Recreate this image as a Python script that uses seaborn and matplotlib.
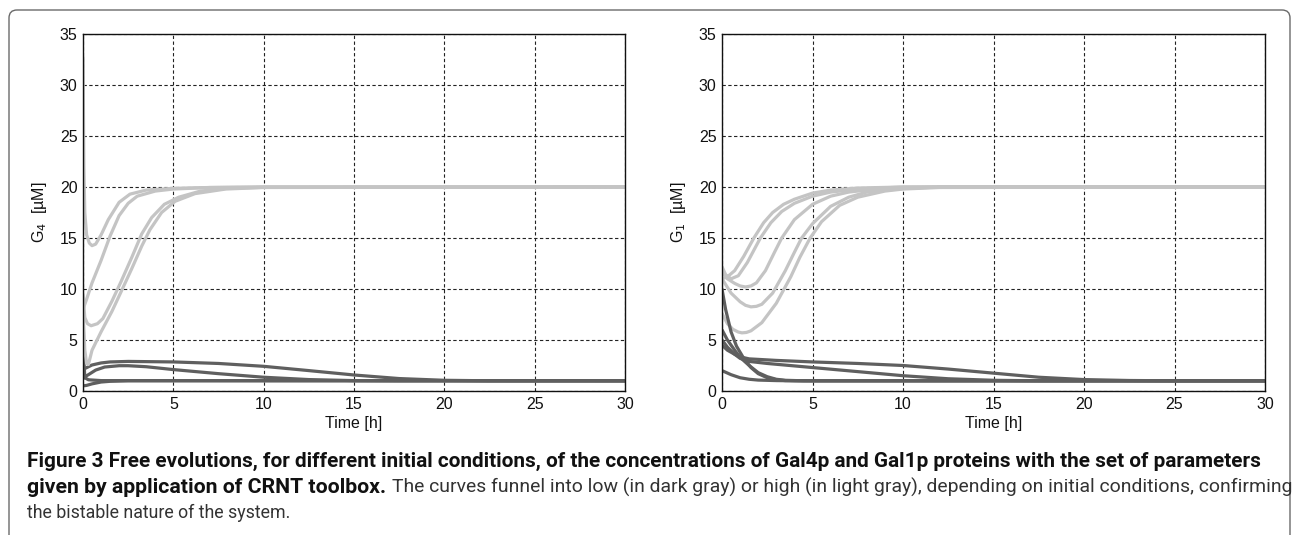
import matplotlib
matplotlib.use("Agg")
import pandas as pd
import matplotlib.pyplot as plt
import seaborn as sns
from matplotlib import font_manager
from matplotlib.patches import FancyBboxPatch

# ---- data ----
# left panel, G4 : light gray (high) curves
g4_hi_a_t = [0, 0.05, 0.1, 0.2, 0.35, 0.5, 0.7, 1.0, 1.4, 2.0, 2.6, 3.5, 5, 7, 10, 30]
g4_hi_a_y = [32.7, 22.0, 17.5, 15.3, 14.5, 14.25, 14.4, 15.3, 16.8, 18.5, 19.3, 19.7, 19.87, 19.95, 20.0, 20.0]
g4_hi_b_t = [0, 0.2, 0.5, 1.0, 1.5, 2.0, 2.5, 3.0, 4.0, 5.0, 7, 10, 30]
g4_hi_b_y = [8.0, 9.0, 10.6, 12.8, 15.2, 17.2, 18.4, 19.1, 19.6, 19.8, 19.95, 20.0, 20.0]
g4_hi_c_t = [0, 0.1, 0.25, 0.45, 0.8, 1.1, 1.6, 2.1, 2.7, 3.25, 3.8, 4.5, 5.3, 6.5, 8, 10, 30]
g4_hi_c_y = [9.5, 7.2, 6.6, 6.4, 6.6, 7.1, 8.8, 10.7, 13.1, 15.4, 17.0, 18.3, 19.0, 19.6, 19.87, 19.97, 20.0]
g4_hi_d_t = [0, 0.1, 0.2, 0.3, 0.5, 1.0, 1.6, 2.1, 2.7, 3.25, 3.7, 4.35, 5.1, 6.2, 7.9, 10, 30]
g4_hi_d_y = [8.0, 4.0, 2.7, 2.6, 4.0, 5.8, 7.8, 9.7, 12.0, 14.2, 15.8, 17.5, 18.6, 19.35, 19.8, 19.95, 20.0]

# left panel, G4 : dark gray (low) curves
g4_lo_a_t = [0, 0.1, 0.5, 1.0, 1.5, 2.5, 5, 7.5, 10, 12.5, 15, 17.5, 20, 22.5, 30]
g4_lo_a_y = [2.0, 2.2, 2.55, 2.75, 2.85, 2.9, 2.85, 2.7, 2.42, 2.0, 1.57, 1.22, 1.05, 1.0, 1.0]
g4_lo_b_t = [0, 0.1, 0.3, 0.7, 1.2, 2.0, 2.5, 3.5, 5, 7.5, 10, 12.5, 15, 17.5, 30]
g4_lo_b_y = [1.2, 1.4, 1.6, 2.05, 2.35, 2.48, 2.48, 2.38, 2.1, 1.7, 1.35, 1.12, 1.02, 1.0, 1.0]
g4_lo_c_t = [0, 0.05, 0.1, 0.3, 1.0, 30]
g4_lo_c_y = [8.5, 3.0, 1.3, 1.1, 1.02, 1.0]
g4_lo_d_t = [0, 0.2, 0.5, 1.0, 1.5, 2.5, 30]
g4_lo_d_y = [0.5, 0.55, 0.7, 0.88, 0.95, 1.0, 1.0]

# right panel, G1 : light gray (high) curves
g1_hi_a_t = [0, 0.3, 0.7, 1.2, 1.76, 2.3, 2.8, 3.4, 4.0, 5.0, 6.0, 7.5, 10, 30]
g1_hi_a_y = [11.0, 11.2, 11.8, 13.2, 15.0, 16.5, 17.5, 18.3, 18.8, 19.4, 19.7, 19.9, 20.0, 20.0]
g1_hi_b_t = [0, 0.2, 0.5, 0.9, 1.4, 2.12, 2.7, 3.3, 4.0, 5.0, 6.0, 7.5, 10, 30]
g1_hi_b_y = [12.2, 11.4, 11.0, 11.3, 12.6, 15.0, 16.5, 17.6, 18.4, 19.1, 19.5, 19.8, 20.0, 20.0]
g1_hi_c_t = [0, 0.3, 0.7, 1.0, 1.3, 1.6, 1.9, 2.4, 2.9, 3.3, 4.0, 5.0, 6.0, 7.0, 8.5, 10, 12, 30]
g1_hi_c_y = [11.6, 11.0, 10.55, 10.3, 10.2, 10.3, 10.6, 11.8, 13.6, 15.0, 16.8, 18.3, 19.1, 19.5, 19.8, 19.92, 20.0, 20.0]
g1_hi_d_t = [0, 0.5, 1.0, 1.3, 1.6, 1.9, 2.2, 2.8, 3.5, 4.0, 4.4, 5.0, 6.0, 7.0, 8.0, 10, 12, 30]
g1_hi_d_y = [11.0, 9.6, 8.75, 8.4, 8.25, 8.3, 8.5, 9.6, 11.8, 13.6, 15.0, 16.4, 18.1, 19.0, 19.5, 19.85, 20.0, 20.0]
g1_hi_e_t = [0, 0.3, 0.6, 0.9, 1.1, 1.35, 1.6, 2.2, 3.0, 3.8, 4.3, 4.87, 5.5, 6.5, 7.5, 9, 10, 12, 30]
g1_hi_e_y = [7.6, 6.6, 6.05, 5.78, 5.7, 5.74, 5.9, 6.7, 8.6, 11.2, 13.1, 15.0, 16.6, 18.2, 19.0, 19.6, 19.8, 19.95, 20.0]

# right panel, G1 : dark gray (low) curves
g1_lo_a_t = [0, 0.2, 0.5, 0.8, 1.2, 1.6, 2.0, 2.5, 3.0, 3.5, 5, 30]
g1_lo_a_y = [10.0, 8.0, 5.8, 4.4, 3.2, 2.3, 1.7, 1.3, 1.1, 1.02, 1.0, 1.0]
g1_lo_b_t = [0, 0.3, 0.7, 1.0, 1.5, 2.0, 2.5, 3.0, 3.5, 4.5, 30]
g1_lo_b_y = [6.0, 5.0, 4.0, 3.3, 2.5, 1.8, 1.4, 1.15, 1.05, 1.0, 1.0]
g1_lo_c_t = [0, 0.3, 0.7, 1.0, 1.5, 3, 5, 7.5, 10, 12.5, 15, 17.5, 20, 22.5, 25, 30]
g1_lo_c_y = [4.5, 4.0, 3.6, 3.35, 3.15, 3.0, 2.85, 2.7, 2.5, 2.15, 1.75, 1.35, 1.12, 1.03, 1.0, 1.0]
g1_lo_d_t = [0, 0.3, 0.7, 1.0, 1.5, 2.5, 5, 7.5, 10, 12.5, 15, 17.5, 30]
g1_lo_d_y = [5.0, 4.3, 3.6, 3.2, 2.9, 2.7, 2.3, 1.9, 1.5, 1.2, 1.05, 1.0, 1.0]
g1_lo_e_t = [0, 0.5, 1.0, 1.5, 2.0, 3.0, 4, 30]
g1_lo_e_y = [2.0, 1.6, 1.3, 1.15, 1.07, 1.02, 1.0, 1.0]

x_ticks = [0, 5, 10, 15, 20, 25, 30]
y_ticks = [0, 5, 10, 15, 20, 25, 30, 35]
y_labels = ["G$_4$  [µM]", "G$_1$  [µM]"]

caption_bold_1 = "Figure 3 Free evolutions, for different initial conditions, of the concentrations of Gal4p and Gal1p proteins with the set of parameters"
caption_bold_2 = "given by application of CRNT toolbox."
caption_reg_2 = "The curves funnel into low (in dark gray) or high (in light gray), depending on initial conditions, confirming"
caption_reg_3 = "the bistable nature of the system."


def build(curves):
    rows = []
    for name, level, t, y in curves:
        for a, b in zip(t, y):
            rows.append({"t": a, "y": b, "curve": name, "level": level})
    return pd.DataFrame(rows)


left_df = build([
    ("la", "low", g4_lo_a_t, g4_lo_a_y), ("lb", "low", g4_lo_b_t, g4_lo_b_y),
    ("lc", "low", g4_lo_c_t, g4_lo_c_y), ("ld", "low", g4_lo_d_t, g4_lo_d_y),
    ("ha", "high", g4_hi_a_t, g4_hi_a_y), ("hb", "high", g4_hi_b_t, g4_hi_b_y),
    ("hc", "high", g4_hi_c_t, g4_hi_c_y), ("hd", "high", g4_hi_d_t, g4_hi_d_y),
])
right_df = build([
    ("ha", "high", g1_hi_a_t, g1_hi_a_y), ("hb", "high", g1_hi_b_t, g1_hi_b_y),
    ("hc", "high", g1_hi_c_t, g1_hi_c_y), ("hd", "high", g1_hi_d_t, g1_hi_d_y),
    ("he", "high", g1_hi_e_t, g1_hi_e_y),
    ("la", "low", g1_lo_a_t, g1_lo_a_y), ("lb", "low", g1_lo_b_t, g1_lo_b_y),
    ("lc", "low", g1_lo_c_t, g1_lo_c_y), ("ld", "low", g1_lo_d_t, g1_lo_d_y),
    ("le", "low", g1_lo_e_t, g1_lo_e_y),
])

sns.set_theme(style="white")
plt.rcParams['font.family'] = ['Liberation Sans', 'DejaVu Sans']

W, H = 1292, 535
fig = plt.figure(figsize=(W / 100, H / 100), dpi=100)
palette = {"low": "#5f5f5f", "high": "#c4c4c4"}

axes = [fig.add_axes([83 / W, 1 - 391 / H, 542 / W, 357 / H]),
        fig.add_axes([722 / W, 1 - 391 / H, 543 / W, 357 / H])]

for ax, df, lab in zip(axes, [left_df, right_df], y_labels):
    sns.lineplot(data=df, x="t", y="y", units="curve", estimator=None, hue="level",
                 palette=palette, lw=2.3, legend=False, sort=False, ax=ax)
    ax.set_xlim(0, 30)
    ax.set_ylim(0, 35)
    ax.set_xticks(x_ticks)
    ax.set_yticks(y_ticks)
    ax.grid(True, color="#222222", linestyle=(0, (3, 2.2)), lw=0.8)
    ax.tick_params(direction="in", length=3, labelsize=11.5, colors="#111111", pad=4)
    for s in ax.spines.values():
        s.set_color("#111111")
        s.set_linewidth(1.0)
    ax.set_xlabel("Time [h]", fontsize=11.5, labelpad=3, color="#111111")
    ax.set_ylabel(lab, fontsize=11.5, labelpad=8, color="#111111")

# frame round the figure
fig.add_artist(FancyBboxPatch((0.09, -0.3), 12.81, 5.55,
                              boxstyle="round,pad=0,rounding_size=0.08",
                              transform=fig.dpi_scale_trans, fill=False,
                              ec="#6a6a6a", lw=1.0))

# caption, sized to match the measured line widths
names = {f.name for f in font_manager.fontManager.ttflist}
cap_family = "DejaVu Sans"
for cand in ["Roboto", "Liberation Sans"]:
    if cand in names:
        cap_family = cand
        break
fig.canvas.draw()
renderer = fig.canvas.get_renderer()


def fit_text(x0, x1, base, s, weight, color):
    t = fig.text(x0 / W, 1 - base / H, s, fontsize=11, fontweight=weight,
                 color=color, va="baseline", ha="left", family=cap_family)
    w = t.get_window_extent(renderer).width
    t.set_fontsize(11 * (x1 - x0) / w)
    return t


fit_text(27, 1261, 467, caption_bold_1, "bold", "#111111")
fit_text(27, 387, 493, caption_bold_2, "bold", "#111111")
fit_text(392, 1287, 493, caption_reg_2, "normal", "#333333")
fit_text(27, 290, 518, caption_reg_3, "normal", "#333333")

fig.savefig("out.png", dpi=100)
